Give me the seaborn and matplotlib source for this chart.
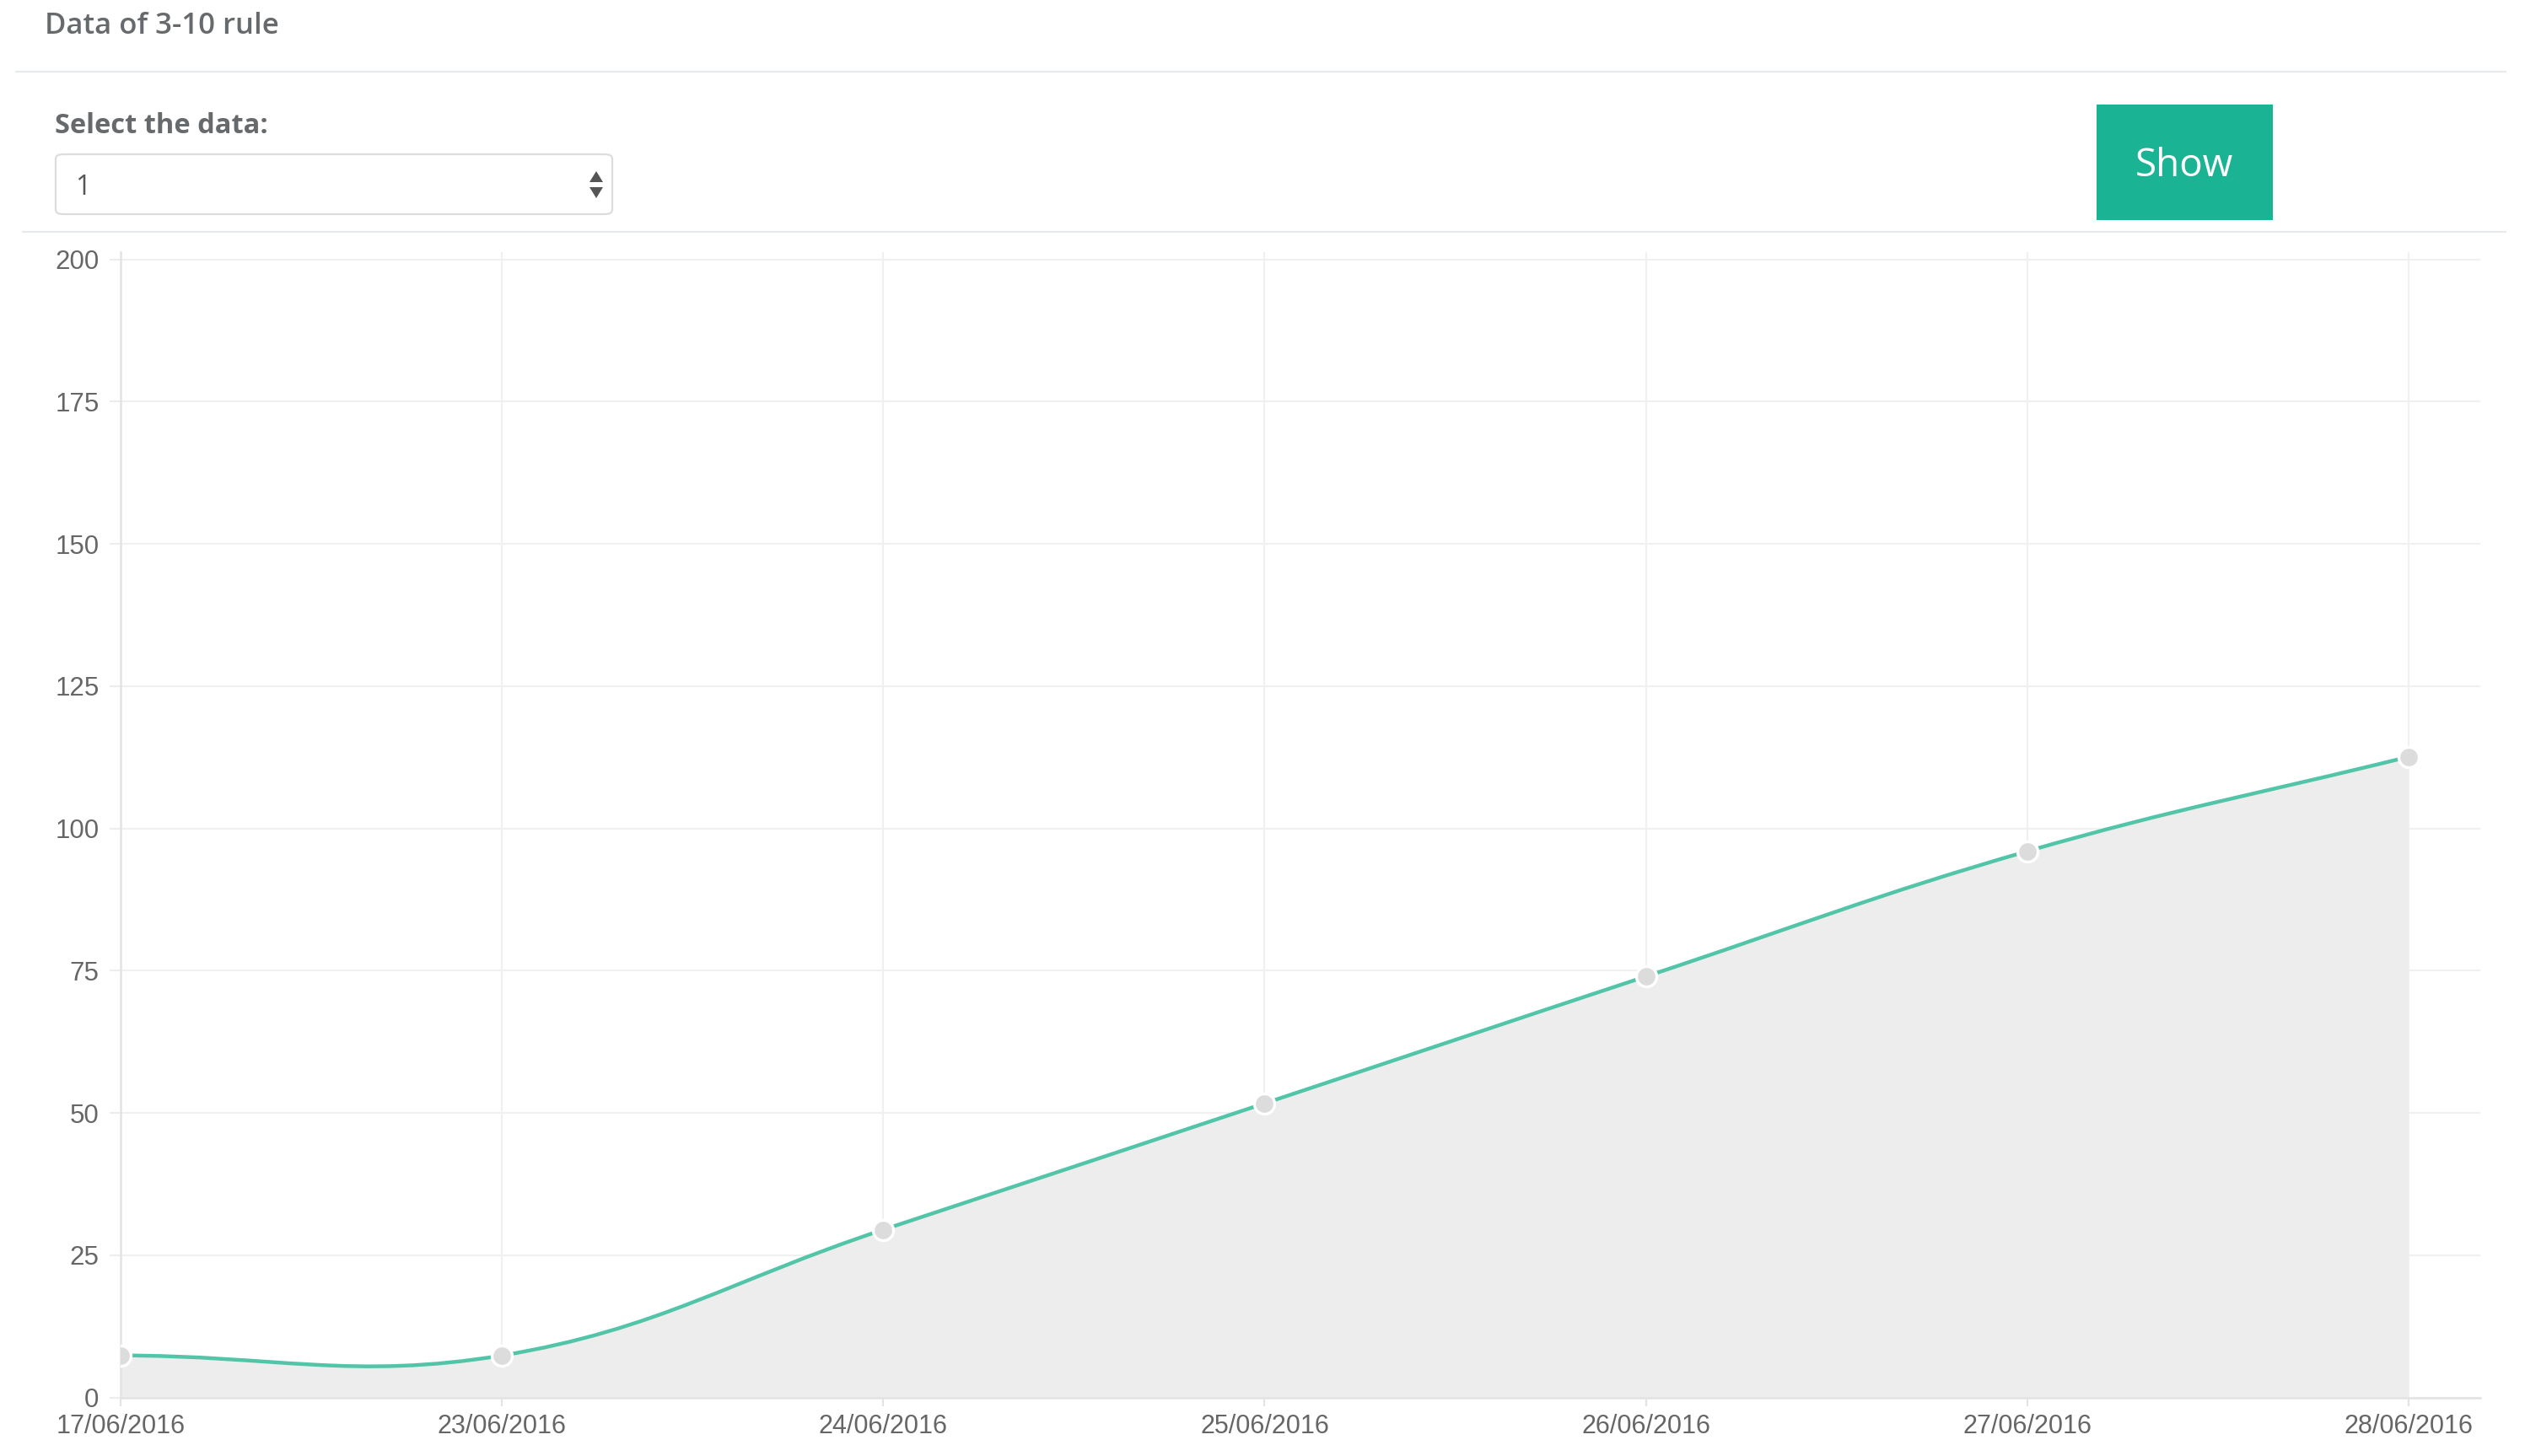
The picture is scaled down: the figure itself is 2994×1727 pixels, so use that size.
import numpy as np
import pandas as pd
import matplotlib
matplotlib.use("Agg")
import matplotlib.pyplot as plt
from matplotlib.path import Path
from matplotlib.patches import PathPatch, FancyBboxPatch, Rectangle, Polygon
from matplotlib.lines import Line2D
import seaborn as sns

# ---------------- data ----------------
dates = ["17/06/2016", "23/06/2016", "24/06/2016", "25/06/2016",
         "26/06/2016", "27/06/2016", "28/06/2016"]
values = [7.4, 7.4, 29.5, 51.7, 74.0, 96.0, 112.6]
y_ticks = [0, 25, 50, 75, 100, 125, 150, 175, 200]
title_text = "Data of 3-10 rule"
select_label = "Select the data:"
select_value = "1"
button_text = "Show"

# ---------------- style ----------------
sns.set_theme(style="white")
plt.rcParams["font.family"] = ["Liberation Sans", "DejaVu Sans"]

W, H = 2994, 1727
fig = plt.figure(figsize=(W / 100, H / 100), dpi=100)


def fx(x):
    return x / W


def fy(y):
    return 1 - y / H


# axes placement (pixel measurements from reference)
ax_l, ax_r, ax_t, ax_b = 143, 2941, 298.9, 1657.7
ax = fig.add_axes([fx(ax_l), fy(ax_b), (ax_r - ax_l) / W, (ax_b - ax_t) / H])

df = pd.DataFrame({"idx": np.arange(len(dates)), "value": values, "date": dates})

ax.set_xlim(0, 6.188)
ax.set_ylim(0, 201.3)

# Chart.js style bezier spline (tension 0.4), computed in pixel space
fig.canvas.draw()
pts = ax.transData.transform(np.column_stack([df["idx"], df["value"]]))
n = len(pts)
tension = 0.4
ctrl_prev = np.zeros_like(pts)
ctrl_next = np.zeros_like(pts)
for i in range(n):
    p0 = pts[max(i - 1, 0)]
    p1 = pts[i]
    p2 = pts[min(i + 1, n - 1)]
    d01 = np.hypot(*(p1 - p0))
    d12 = np.hypot(*(p2 - p1))
    tot = d01 + d12
    s01 = d01 / tot if tot else 0
    s12 = d12 / tot if tot else 0
    fa = tension * s01
    fb = tension * s12
    ctrl_prev[i] = p1 - fa * (p2 - p0)
    ctrl_next[i] = p1 + fb * (p2 - p0)

inv = ax.transData.inverted()
P = inv.transform(pts)
CP = inv.transform(ctrl_prev)
CN = inv.transform(ctrl_next)

verts = [tuple(P[0])]
codes = [Path.MOVETO]
for i in range(1, n):
    verts += [tuple(CN[i - 1]), tuple(CP[i]), tuple(P[i])]
    codes += [Path.CURVE4] * 3

# fill under curve
fill_verts = verts + [(P[-1][0], 0), (P[0][0], 0), tuple(P[0])]
fill_codes = codes + [Path.LINETO, Path.LINETO, Path.CLOSEPOLY]
ax.add_patch(PathPatch(Path(fill_verts, fill_codes), facecolor="#ededed",
                       edgecolor="none", zorder=1))
# curve line
ax.add_patch(PathPatch(Path(verts, codes), facecolor="none",
                       edgecolor="#52c5a9", linewidth=3.2, zorder=3,
                       capstyle="round", joinstyle="round"))

# points
sns.scatterplot(data=df, x="idx", y="value", ax=ax, s=300, color="#dcdcdc",
                edgecolor="white", linewidth=2.4, zorder=4, legend=False)

# axes styling
ax.set_xticks(df["idx"])
ax.set_xticklabels(dates)
ax.set_yticks(y_ticks)
ax.set_yticklabels([str(t) for t in y_ticks])
ax.set_xlabel("")
ax.set_ylabel("")
ax.grid(True, color="#f0f0f0", linewidth=1.5, zorder=0)
ax.set_axisbelow(True)
for s in ["top", "right"]:
    ax.spines[s].set_visible(False)
for s in ["left", "bottom"]:
    ax.spines[s].set_color("#e3e3e3")
    ax.spines[s].set_linewidth(1.8)
ax.tick_params(axis="y", length=9.4, width=1.5, color="#ececec", pad=9.0,
               labelsize=22.5, labelcolor="#666666", left=True)
ax.tick_params(axis="x", length=7.2, width=1.5, color="#e3e3e3", pad=7,
               labelsize=22, labelcolor="#666666", bottom=True)
ax.set_facecolor("white")

# ---------------- page decorations ----------------
fig.text(fx(53), fy(40), title_text, fontsize=25, fontweight="semibold",
         color="#676a6c", family=["Open Sans", "DejaVu Sans"], va="baseline", ha="left")
fig.add_artist(Line2D([fx(19), fx(2971)], [fy(85), fy(85)], color="#e7eaec", linewidth=1.6))

fig.text(fx(65), fy(158), select_label, fontsize=23.5, fontweight="bold",
         color="#676a6c", family=["Open Sans", "DejaVu Sans"], va="baseline", ha="left")

box = FancyBboxPatch((fx(66), fy(254)), fx(726) - fx(66), fy(183) - fy(254),
                     boxstyle="round,pad=0,rounding_size=0.003",
                     transform=fig.transFigure, facecolor="white",
                     edgecolor="#dcdcdc", linewidth=1.6)
fig.add_artist(box)
fig.text(fx(89), fy(231), select_value, fontsize=23, color="#555555",
         family=["Open Sans", "DejaVu Sans"], va="baseline", ha="left")
fig.add_artist(Polygon([(fx(699), fy(216)), (fx(715), fy(216)), (fx(707), fy(203))],
                       closed=True, transform=fig.transFigure, facecolor="#555555",
                       edgecolor="none"))
fig.add_artist(Polygon([(fx(699), fy(222)), (fx(715), fy(222)), (fx(707), fy(235))],
                       closed=True, transform=fig.transFigure, facecolor="#555555",
                       edgecolor="none"))

fig.add_artist(Rectangle((fx(2486), fy(261)), fx(2695) - fx(2486), fy(124) - fy(261),
                         transform=fig.transFigure, facecolor="#1ab394", edgecolor="none"))
fig.text(fx(2590), fy(197), button_text, fontsize=33, color="white",
         family=["Open Sans", "DejaVu Sans"], va="center", ha="center")

fig.add_artist(Line2D([fx(27), fx(2971)], [fy(275), fy(275)], color="#e7eaec", linewidth=1.6))

fig.savefig("out.png", dpi=100, facecolor="white")
